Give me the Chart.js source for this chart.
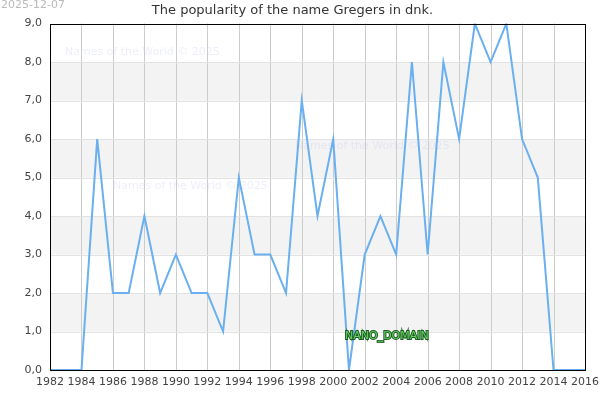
<!DOCTYPE html>
<html><head><meta charset="utf-8">
<script src="https://cdn.jsdelivr.net/npm/chart.js@4/dist/chart.umd.min.js"></script>
<style>html,body{margin:0;padding:0;background:#fff}#wrap{width:600px;height:400px}</style>
</head><body><div id="wrap"><canvas id="c" width="600" height="400"></canvas></div>
<script>
const years = [1982,1983,1984,1985,1986,1987,1988,1989,1990,1991,1992,1993,1994,1995,1996,1997,1998,1999,2000,2001,2002,2003,2004,2005,2006,2007,2008,2009,2010,2011,2012,2013,2014,2015,2016];
const popularity = [0,0,0,6,2,2,4,2,3,2,2,1,5,3,3,2,7,4,6,0,3,4,3,8,3,8,6,9,8,9,6,5,0,0,0];
const titleText = 'The popularity of the name Gregers in dnk.';
const dateText = '2025-12-07';
const watermark = 'Names of the World © 2025';
const domainText = 'NANO_DOMAIN';
const bandRanges = [[1,2],[3,4],[5,6],[7,8]];

const extras = {
  id: 'extras',
  beforeDatasetsDraw(chart) {
    const {ctx, chartArea: a, scales: {x, y}} = chart;
    ctx.save();
    ctx.fillStyle = '#f3f3f3';
    bandRanges.forEach(([lo, hi]) => {
      const y1 = y.getPixelForValue(hi), y2 = y.getPixelForValue(lo);
      ctx.fillRect(a.left, y1, a.right - a.left, y2 - y1);
    });
    ctx.strokeStyle = '#cccccc'; ctx.lineWidth = 1;
    for (let v = 1984; v < 2016; v += 2) {
      const px = Math.round(x.getPixelForValue(v)) + 0.5;
      ctx.beginPath(); ctx.moveTo(px, a.top); ctx.lineTo(px, a.bottom); ctx.stroke();
    }
    ctx.strokeStyle = '#e2e2e2';
    for (let v = 1; v < 9; v++) {
      const py = Math.round(y.getPixelForValue(v)) + 0.5;
      ctx.beginPath(); ctx.moveTo(a.left, py); ctx.lineTo(a.right, py); ctx.stroke();
    }
    ctx.font = '11px "DejaVu Sans"';
    ctx.fillStyle = 'rgba(200,200,240,0.3)';
    ctx.textBaseline = 'middle';
    ctx.fillText(watermark, 65, 52);
    ctx.fillText(watermark, 113, 186);
    ctx.fillText(watermark, 295, 146);
    ctx.restore();
  },
  afterDraw(chart) {
    const {ctx, chartArea: a} = chart;
    ctx.save();
    ctx.strokeStyle = '#000'; ctx.lineWidth = 1;
    ctx.strokeRect(Math.round(a.left) + 0.5, Math.round(a.top) + 0.5, Math.round(a.right - a.left), Math.round(a.bottom - a.top));
    ctx.font = '11px "DejaVu Sans"';
    ctx.textBaseline = 'middle';
    ctx.fillStyle = '#bbbbbb';
    ctx.fillText(dateText, 1, 5);
    ctx.lineWidth = 2; ctx.strokeStyle = '#1b5e20';
    ctx.strokeText(domainText, 345, 336);
    ctx.fillStyle = '#66cc66';
    ctx.fillText(domainText, 345, 336);
    ctx.restore();
  }
};

new Chart(document.getElementById('c'), {
  type: 'line',
  data: {
    labels: years,
    datasets: [{
      data: years.map((yr, i) => ({x: yr, y: popularity[i]})),
      borderColor: '#6aaff0',
      borderWidth: 2,
      pointRadius: 0,
      tension: 0,
      fill: false
    }]
  },
  options: {
    responsive: false,
    animation: false,
    layout: {padding: {top: 0, right: 15, left: 0, bottom: 0}},
    plugins: {
      legend: {display: false},
      tooltip: {enabled: false},
      title: {display: true, text: titleText, color: '#333', font: {family: 'DejaVu Sans', size: 13, weight: 'normal'}, padding: {top: 3, bottom: 5}}
    },
    scales: {
      x: {
        type: 'linear', min: 1982, max: 2016,
        ticks: {stepSize: 2, color: '#444', font: {family: 'DejaVu Sans', size: 11}, padding: 6, callback: v => String(v), maxRotation: 0, autoSkip: false},
        grid: {display: false, drawTicks: false},
        border: {display: false},
        afterFit: s => { s.height = 30; s.paddingLeft = 0; s.paddingRight = 0; }
      },
      y: {
        min: 0, max: 9,
        ticks: {stepSize: 1, color: '#444', font: {family: 'DejaVu Sans', size: 11}, padding: 8, callback: v => v.toFixed(1).replace('.', ',')},
        grid: {display: false, drawTicks: false},
        border: {display: false},
        afterFit: s => { s.width = 50; s.paddingTop = 0; s.paddingBottom = 0; }
      }
    }
  },
  plugins: [extras]
});
</script></body></html>
